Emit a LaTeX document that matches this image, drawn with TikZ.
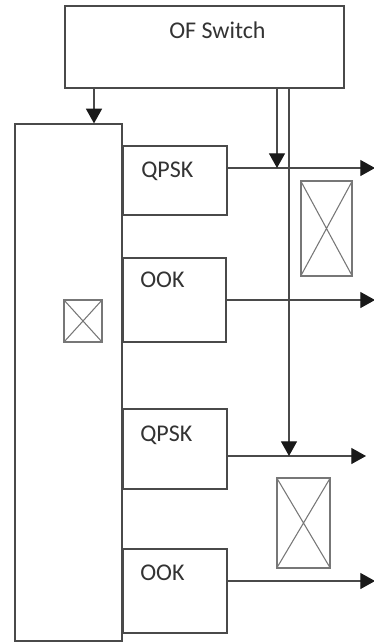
\documentclass[tikz,border=0pt]{standalone}
\usepackage{fontspec}
\setmainfont{Carlito}
\usetikzlibrary{arrows.meta,fit}
\definecolor{ln}{HTML}{4a4a4a}
\definecolor{tx}{HTML}{333333}
\tikzset{
  x=0.75pt,y=-0.75pt,
  box/.style={draw=ln,line width=0.9pt,inner sep=0pt},
  xbox/.style={draw=ln!75,line width=0.8pt,inner sep=0pt},
  lbl/.style={anchor=base west,inner sep=0pt,text=tx,font=\fontsize{18}{20}\selectfont},
  arr/.style={draw=ln,line width=0.9pt,-{Triangle[length=11pt,width=12pt,color=black!90]}},
  ln/.style={draw=ln,line width=0.9pt}
}
\newcommand{\crossed}[1]{\draw[xbox] (#1.north west) -- (#1.south east) (#1.north east) -- (#1.south west);}
\begin{document}
\begin{tikzpicture}
\useasboundingbox (0,0) rectangle (374,643);
% boxes
\node[box,fit={(65,6)(344,88)}] (of) {};
\node[box,fit={(15,124)(122,641)}] (big) {};
\node[box,fit={(123,146)(227,215)}] (q1) {};
\node[box,fit={(123,258)(226,342)}] (o1) {};
\node[box,fit={(123,409)(227,489)}] (q2) {};
\node[box,fit={(123,549)(227,633)}] (o2) {};
% crossed boxes
\node[xbox,fit={(301,181)(352,276)}] (x1) {};
\node[xbox,fit={(277,478)(330,568)}] (x2) {};
\node[xbox,fit={(64,300)(102,342)}] (x3) {};
\crossed{x1}\crossed{x2}\crossed{x3}
% labels
\node[lbl] (tof) at (169,38) {OF Switch};
\node[lbl] (tq1) at (141,177) {QPSK};
\node[lbl] (to1) at (140,287) {OOK};
\node[lbl] (tq2) at (140,441) {QPSK};
\node[lbl] (to2) at (140,580) {OOK};
% coordinates
\coordinate (ca) at (94,0);
\coordinate (cb) at (277,0);
\coordinate (cc) at (289,0);
\coordinate (e1) at (375,168);
\coordinate (e2) at (375,300);
\coordinate (e3) at (366,456);
\coordinate (e4) at (375,581);
% connectors
\draw[arr] (ca |- of.south) -- (ca |- big.north);
\draw[arr] (q1.east |- e1) -- (e1);
\draw[arr] (o1.east |- e2) -- (e2);
\draw[arr] (q2.east |- e3) -- (e3);
\draw[arr] (o2.east |- e4) -- (e4);
\draw[arr] (cb |- of.south) -- (cb |- e1);
\draw[arr] (cc |- of.south) -- (cc |- e3);
\end{tikzpicture}
\end{document}
